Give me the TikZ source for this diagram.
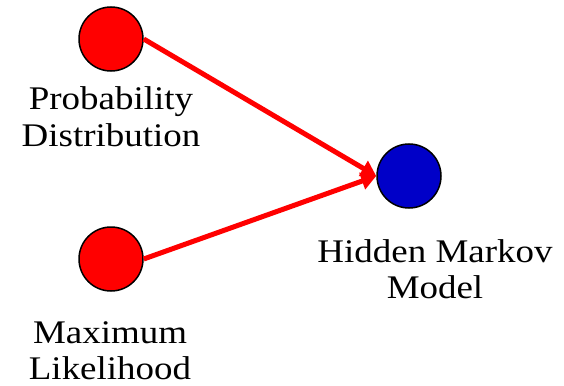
\documentclass[tikz,border=0pt]{standalone}
\usepackage{fontspec}
\setmainfont{Liberation Serif}
\newfontfamily\widefont[FakeStretch=1.12]{Liberation Serif}
\usetikzlibrary{arrows.meta}
\begin{document}
\begin{tikzpicture}[x=1pt,y=-1pt,
  dot/.style={circle,draw=black,line width=1.5pt,minimum size=64pt,inner sep=0pt},
  lbl/.style={anchor=base,align=center,inner sep=0pt,font=\widefont\fontsize{33}{36}\selectfont},
  conn/.style={draw=red,line width=5pt,-{Triangle[length=15pt,width=17pt]},shorten >=0pt}]
\useasboundingbox (0,0) rectangle (564,385);
\node[dot,fill=red] (p) at (111,39) {};
\node[dot,fill=red] (m) at (111,259) {};
\node[dot,fill={rgb,255:red,0;green,0;blue,200}] (h) at (409,176) {};
\node[lbl] (pt) at (111,146) {Probability\\Distribution};
\node[lbl] (mt) at (110,379) {Maximum\\Likelihood};
\node[lbl] (ht) at (435,298) {Hidden Markov\\Model};
\draw[conn] (p.east) -- (h.west);
\draw[conn] (m.east) -- (h.west);
\end{tikzpicture}
\end{document}
